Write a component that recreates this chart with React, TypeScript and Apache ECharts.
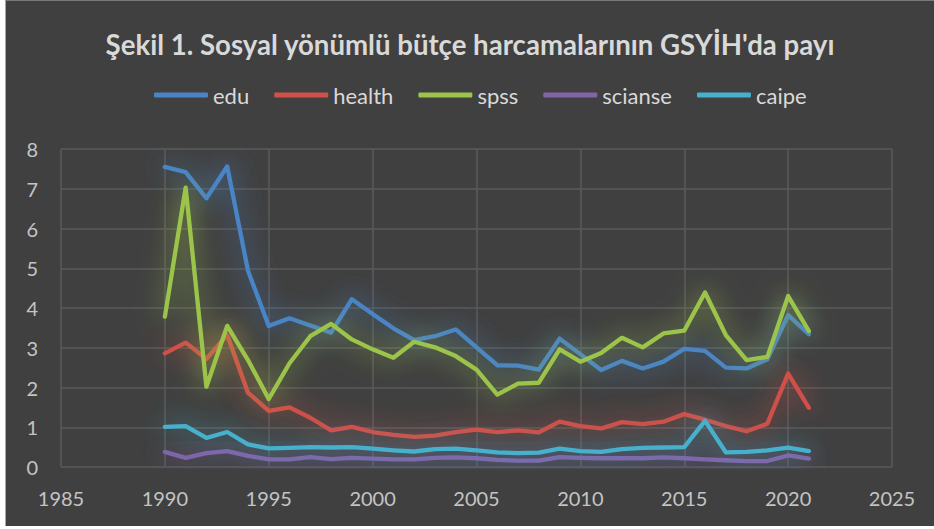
import React, { useEffect, useRef } from "react";
import * as echarts from "echarts";

const years = [1990, 1991, 1992, 1993, 1994, 1995, 1996, 1997, 1998, 1999, 2000, 2001, 2002, 2003, 2004, 2005, 2006, 2007, 2008, 2009, 2010, 2011, 2012, 2013, 2014, 2015, 2016, 2017, 2018, 2019, 2020, 2021];
const edu = [7.55, 7.42, 6.76, 7.56, 4.94, 3.55, 3.74, 3.56, 3.38, 4.22, 3.85, 3.49, 3.19, 3.29, 3.46, 3.01, 2.56, 2.55, 2.45, 3.23, 2.84, 2.44, 2.67, 2.48, 2.65, 2.97, 2.92, 2.5, 2.48, 2.71, 3.82, 3.34];
const health = [2.86, 3.13, 2.72, 3.32, 1.87, 1.41, 1.5, 1.24, 0.92, 1.01, 0.88, 0.81, 0.76, 0.79, 0.88, 0.94, 0.88, 0.92, 0.87, 1.14, 1.03, 0.97, 1.13, 1.08, 1.14, 1.33, 1.19, 1.03, 0.9, 1.09, 2.35, 1.49];
const spss = [3.78, 7.03, 2.02, 3.55, 2.69, 1.71, 2.61, 3.29, 3.6, 3.21, 2.96, 2.75, 3.15, 3.01, 2.79, 2.45, 1.82, 2.1, 2.12, 2.96, 2.65, 2.87, 3.25, 3.01, 3.36, 3.43, 4.39, 3.32, 2.69, 2.77, 4.3, 3.42];
const scianse = [0.38, 0.23, 0.35, 0.4, 0.28, 0.19, 0.19, 0.25, 0.2, 0.23, 0.21, 0.19, 0.19, 0.23, 0.24, 0.22, 0.18, 0.16, 0.16, 0.25, 0.23, 0.22, 0.22, 0.22, 0.24, 0.22, 0.19, 0.17, 0.15, 0.15, 0.29, 0.21];
const caipe = [1.01, 1.03, 0.73, 0.88, 0.57, 0.47, 0.48, 0.5, 0.49, 0.5, 0.46, 0.42, 0.39, 0.45, 0.46, 0.42, 0.37, 0.35, 0.36, 0.46, 0.4, 0.38, 0.45, 0.48, 0.49, 0.5, 1.16, 0.37, 0.38, 0.42, 0.49, 0.4];

const seriesNames = ["edu", "health", "spss", "scianse", "caipe"];
const seriesValues = [edu, health, spss, scianse, caipe];
const seriesColors = ["#4a84c6", "#d0504a", "#9cc44c", "#8064a8", "#47b0cc"];
const titleText = "Şekil 1. Sosyal yönümlü bütçe harcamalarının GSYİH'da payı";

export default function App() {
  const ref = useRef<HTMLDivElement>(null);
  useEffect(() => {
    if (!ref.current) return;
    const chart = echarts.init(ref.current, undefined, { renderer: "svg" });
    const font = "Lato, 'Open Sans', sans-serif";
    chart.setOption({
      animation: false,
      backgroundColor: "#404040",
      color: seriesColors,
      title: {
        text: titleText,
        left: "center",
        top: 24,
        textStyle: { color: "#d9d9d9", fontFamily: font, fontWeight: "bold", fontSize: 27.6 },
      },
      legend: {
        left: 143,
        top: 78,
        itemWidth: 54,
        itemHeight: 5,
        itemGap: 25,
        icon: "roundRect",
        textStyle: { color: "#d9d9d9", fontFamily: font, fontSize: 22 },
        data: seriesNames,
      },
      grid: { left: 55, right: 42, top: 148, bottom: 59, containLabel: false },
      xAxis: {
        type: "value",
        min: 1985,
        max: 2025,
        interval: 5,
        axisLine: { show: false },
        axisTick: { show: false },
        axisLabel: { color: "#c4c4c4", fontFamily: font, fontSize: 20, margin: 21, formatter: (v: number) => String(v) },
        splitLine: { show: true, lineStyle: { color: "#5a5a5a", width: 1.5 } },
      },
      yAxis: {
        type: "value",
        min: 0,
        max: 8,
        interval: 1,
        axisLine: { show: false },
        axisTick: { show: false },
        axisLabel: { color: "#c4c4c4", fontFamily: font, fontSize: 20, margin: 23 },
        splitLine: { show: true, lineStyle: { color: "#5a5a5a", width: 1.5 } },
      },
      series: seriesNames.map((name, i) => ({
        name,
        type: "line",
        showSymbol: false,
        symbol: "none",
        data: years.map((y, j) => [y, seriesValues[i][j]]),
        lineStyle: {
          width: 4.3,
          color: seriesColors[i],
          shadowBlur: 26,
          shadowColor: seriesColors[i],
          cap: "round",
          join: "round",
        },
      })),
    });
    return () => chart.dispose();
  }, []);
  return (
    <div style={{ position: "fixed", left: 0, top: 0, width: 934, height: 529, background: "#ffffff" }}>
      <div style={{ position: "absolute", left: 5, top: 0, width: 929, height: 526, borderTop: "1px solid #7a7a7a", borderLeft: "1px solid #a6a6a6", boxSizing: "border-box" }}>
        <div ref={ref} style={{ width: 928, height: 525 }} />
      </div>
    </div>
  );
}
